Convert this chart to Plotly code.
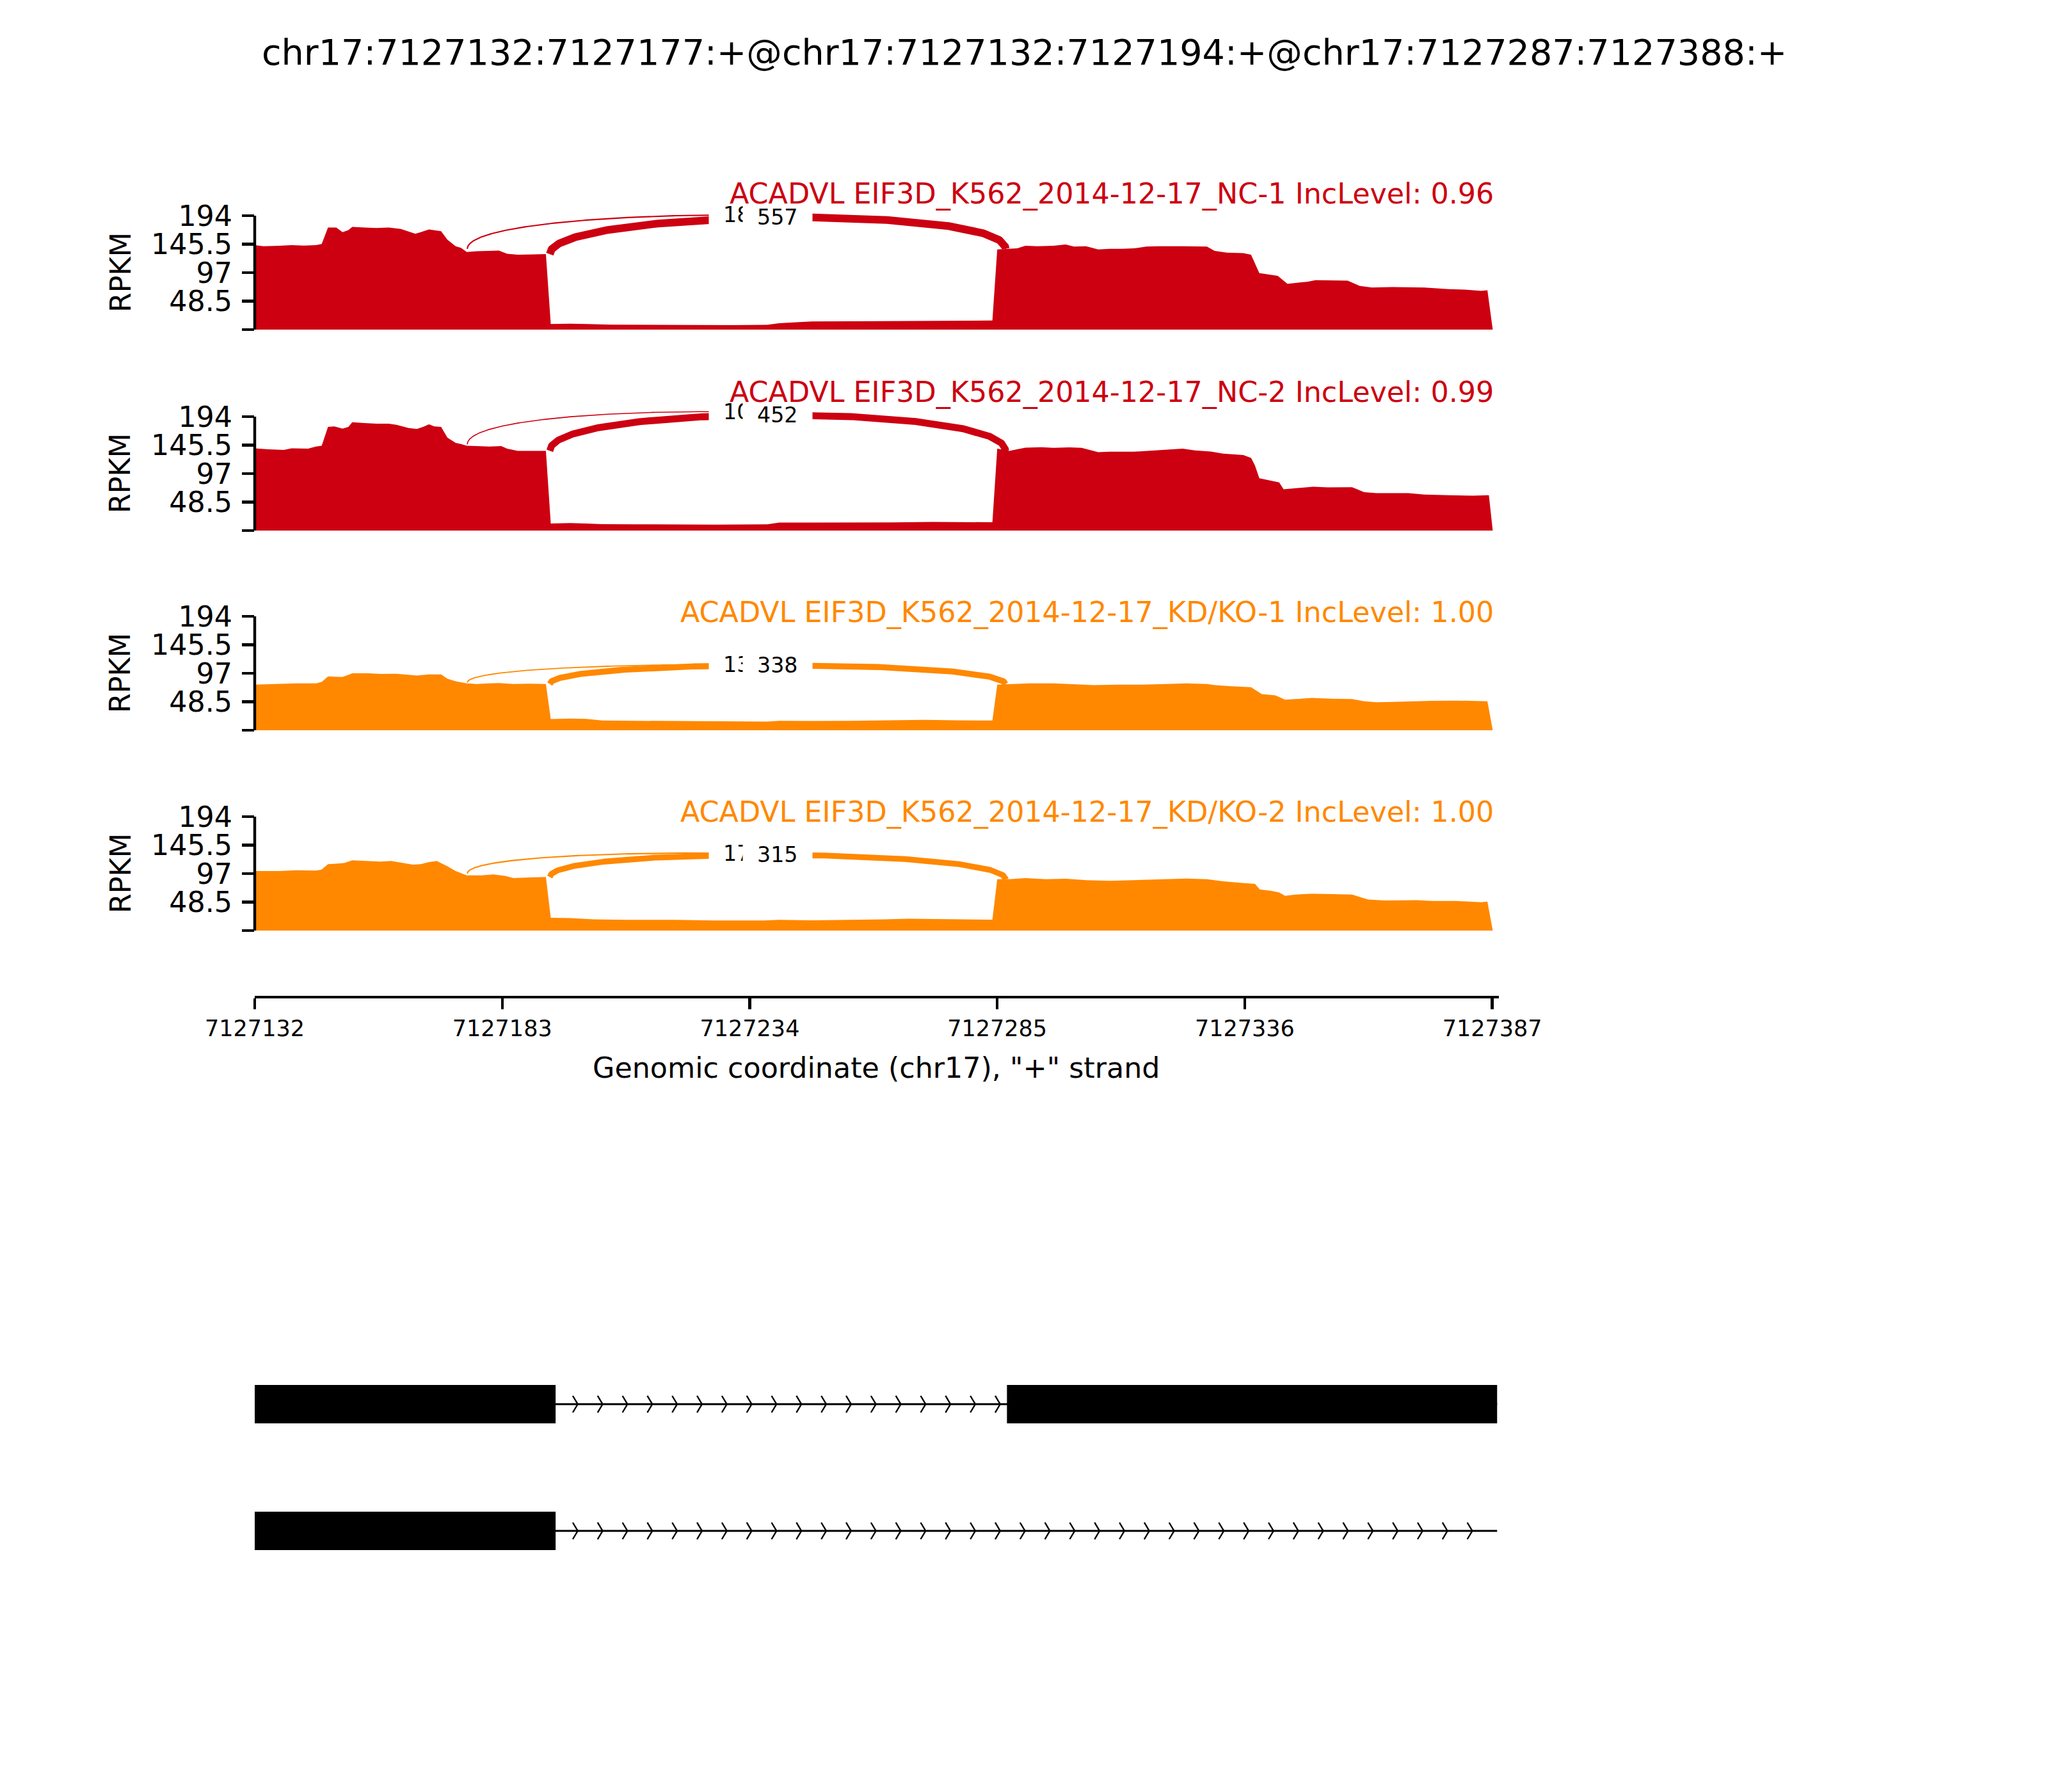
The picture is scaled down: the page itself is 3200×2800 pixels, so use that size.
import numpy as np
import plotly.graph_objects as go

# ======================= DATA =======================
TITLE = "chr17:7127132:7127177:+@chr17:7127132:7127194:+@chr17:7127287:7127388:+"
TX_START = 7127132
TX_END = 7127388
CHROM_LABEL = 'Genomic coordinate (chr17), "+" strand'

SAMPLE_LABELS = [
    "ACADVL EIF3D_K562_2014-12-17_NC-1",
    "ACADVL EIF3D_K562_2014-12-17_NC-2",
    "ACADVL EIF3D_K562_2014-12-17_KD/KO-1",
    "ACADVL EIF3D_K562_2014-12-17_KD/KO-2",
]
INC_LEVELS = [0.96, 0.99, 1.00, 1.00]

# coverage (RPKM): (offset from TX_START in bp, value)
COV_NC1 = [
    (0, 143.8), (1.8, 142.0), (5.1, 142.7), (7.6, 143.8), (10.1, 143.1), (12.6, 143.8), (13.8, 145.7),
    (15.1, 173.9), (16.8, 173.9), (18.1, 165.8), (19.3, 169.5), (20.1, 175.0), (22.6, 173.9), (25.1, 173.1),
    (27.6, 173.9), (30.1, 171.3), (31.7, 166.9), (33.1, 163.2), (34.2, 165.8), (35.9, 170.6), (38.4, 167.6),
    (39.7, 153.0), (41.4, 142.0), (42.5, 139.3), (43.7, 132.1), (45.8, 133.6), (48.3, 134.0), (50.3, 134.7),
    (52.0, 129.2), (54.2, 127.4), (57.5, 128.1), (60.0, 128.5), (61.0, 9.5), (65.0, 10.2), (68.3, 9.5),
    (73.3, 8.4), (81.6, 8.1), (89.9, 7.7), (98.2, 7.7), (105.6, 8.1), (108.1, 11.0), (112.3, 12.8),
    (114.8, 13.9), (123.1, 14.3), (131.4, 14.6), (139.7, 15.0), (148.0, 15.4), (152.0, 15.4), (153.0, 136.5),
    (155.5, 137.6), (157.1, 138.3), (158.8, 142.7), (161.3, 142.0), (164.6, 142.7), (167.1, 145.0),
    (168.8, 141.3), (171.3, 142.0), (173.8, 136.5), (176.2, 137.6), (178.7, 137.6), (181.2, 138.3),
    (183.7, 141.3), (186.2, 142.0), (191.2, 142.0), (196.2, 141.3), (197.8, 134.0), (200.3, 131.0),
    (203.7, 130.3), (205.3, 127.4), (206.1, 112.7), (207.0, 96.3), (208.6, 94.4), (210.8, 91.5),
    (212.8, 78.0), (215.3, 79.8), (216.9, 81.6), (218.6, 84.2), (221.9, 83.4), (225.2, 83.4), (227.7, 74.3),
    (230.2, 71.7), (234.4, 72.5), (237.7, 72.5), (241.0, 71.7), (246.0, 68.8), (249.3, 68.1), (252.7, 65.9),
    (254.0, 67.0), (255.1, 0.0),
]
COV_NC2 = [
    (0, 140.1), (2.7, 138.3), (6.0, 137.2), (7.6, 140.1), (11.0, 139.4), (12.6, 143.1), (13.8, 144.5),
    (15.1, 176.5), (16.4, 177.3), (18.1, 173.6), (19.3, 176.5), (20.1, 184.5), (22.6, 183.1), (25.1, 182.0),
    (27.6, 182.0), (29.2, 180.2), (31.7, 174.7), (33.4, 172.9), (34.7, 176.5), (35.9, 180.9), (37.0, 177.3),
    (38.4, 176.5), (39.7, 158.3), (41.4, 149.2), (42.5, 147.4), (43.7, 144.5), (45.8, 143.8), (48.3, 143.1),
    (50.8, 143.8), (52.0, 139.4), (54.2, 135.8), (56.6, 135.8), (60.0, 135.8), (61.0, 12.0), (65.0, 12.7),
    (68.3, 12.0), (71.6, 10.9), (78.2, 10.6), (86.5, 10.2), (94.9, 10.2), (105.6, 10.6), (108.1, 13.5),
    (114.8, 13.5), (123.1, 13.5), (131.4, 13.8), (139.7, 14.6), (148.0, 14.6), (152.0, 14.2), (153.0, 139.4),
    (155.5, 135.8), (157.1, 138.3), (158.8, 141.2), (162.1, 142.0), (164.6, 140.9), (167.9, 141.6),
    (170.4, 140.9), (173.8, 133.6), (176.2, 134.3), (181.2, 134.3), (184.6, 135.8), (187.9, 137.2),
    (191.2, 139.4), (193.7, 136.5), (197.0, 134.7), (199.5, 131.0), (203.7, 128.5), (205.3, 123.8),
    (206.1, 111.0), (207.0, 89.2), (209.5, 84.8), (211.1, 81.9), (212.0, 70.3), (215.3, 72.8), (218.1, 74.6),
    (221.1, 73.5), (226.1, 73.9), (228.6, 65.5), (231.1, 63.7), (237.7, 63.7), (241.0, 61.2), (246.0, 60.1),
    (251.0, 59.3), (254.3, 60.1), (255.1, 0.0),
]
COV_KD1 = [
    (0, 77.6), (5.1, 78.7), (8.5, 79.8), (12.6, 79.8), (13.8, 82.4), (15.1, 91.5), (16.8, 91.5), (18.1, 90.8),
    (19.3, 94.4), (20.1, 97.0), (23.4, 97.0), (25.9, 95.9), (29.2, 96.3), (31.7, 94.4), (33.4, 93.3),
    (35.9, 95.2), (38.4, 95.2), (39.7, 87.8), (41.4, 83.4), (43.7, 79.8), (45.8, 78.7), (48.3, 79.8),
    (50.3, 80.5), (53.3, 78.7), (56.6, 79.4), (60.0, 78.7), (61.0, 19.0), (65.0, 19.8), (68.3, 19.4),
    (71.6, 16.5), (78.2, 16.1), (86.5, 15.7), (98.2, 15.4), (105.6, 14.6), (108.1, 16.1), (114.8, 15.7),
    (123.1, 16.1), (131.4, 16.5), (138.0, 17.6), (144.7, 16.8), (152.0, 16.5), (153.0, 77.6), (156.3, 78.7),
    (159.6, 79.8), (164.6, 79.8), (167.9, 78.7), (172.9, 76.9), (177.9, 77.6), (182.9, 77.6), (187.9, 78.7),
    (192.0, 79.8), (196.2, 78.7), (197.8, 76.9), (201.2, 75.0), (205.3, 73.2), (206.1, 68.8), (207.5, 61.5),
    (210.3, 59.3), (212.3, 52.0), (214.5, 53.1), (217.8, 54.9), (221.9, 53.8), (226.1, 53.1), (228.6, 49.4),
    (231.1, 47.6), (234.4, 48.3), (238.5, 49.4), (242.7, 50.1), (247.7, 50.5), (254.0, 49.4), (255.1, 0.0),
]
COV_KD2 = [
    (0, 101.4), (5.1, 101.4), (8.5, 102.8), (12.6, 102.1), (13.8, 103.9), (15.1, 113.1), (16.8, 113.8),
    (18.4, 114.9), (20.1, 119.6), (23.4, 118.5), (25.9, 117.4), (28.1, 118.5), (30.1, 116.0), (32.6, 112.3),
    (34.2, 113.1), (35.9, 116.7), (37.5, 118.5), (38.4, 114.9), (39.7, 109.4), (41.4, 101.4), (43.7, 94.1),
    (46.7, 94.1), (49.2, 95.6), (51.7, 93.0), (53.3, 89.4), (56.6, 90.4), (60.0, 91.2), (61.0, 21.9),
    (65.0, 21.2), (69.9, 19.0), (76.6, 18.2), (86.5, 18.2), (94.9, 17.1), (104.8, 17.1), (108.1, 18.2),
    (114.8, 17.5), (123.1, 18.2), (129.7, 19.0), (134.7, 20.1), (144.7, 19.7), (152.0, 18.6), (153.0, 87.5),
    (155.5, 87.5), (158.8, 89.4), (163.0, 87.5), (167.1, 88.3), (171.3, 85.7), (176.2, 84.6), (181.2, 85.7),
    (186.2, 86.8), (192.0, 88.6), (196.2, 87.5), (199.5, 83.9), (203.7, 81.0), (206.1, 79.5), (207.1, 70.0),
    (209.5, 67.5), (211.1, 64.9), (212.3, 59.1), (214.5, 61.3), (217.8, 62.7), (221.9, 62.0), (226.1, 61.3),
    (229.4, 52.9), (232.8, 51.1), (239.4, 51.8), (242.7, 50.3), (247.7, 50.3), (252.7, 48.1), (254.0, 49.2),
    (255.1, 0.0),
]
COVERAGES = [COV_NC1, COV_NC2, COV_KD1, COV_KD2]

# junctions (intron start / end) and read counts per sample
JXN_STARTS = [7127177, 7127194]
JXN_ENDS = [7127287, 7127287]
JXN_COUNTS = [[18, 557], [10, 452], [13, 338], [17, 315]]

Y_TICK_VALS = [0, 48.5, 97, 145.5, 194]
Y_TICK_TEXT = ["", "48.5", "97", "145.5", "194"]
X_TICK_VALS = [7127132, 7127183, 7127234, 7127285, 7127336, 7127387]

ISOFORM_EXONS = [
    [[7127132, 7127177], [7127132, 7127194], [7127287, 7127388]],
    [[7127132, 7127177], [7127132, 7127194]],
]
N_ARROWS = 50

# ======================= STYLE / LAYOUT =======================
W, H = 3200, 2800
FONT = "DejaVu Sans"
COLORS = ["#CC0011", "#CC0011", "#FF8800", "#FF8800"]
PX_LEFT = 398
PX_PER_BP = 7.583
AXIS_SPAN_BP = 256.3
PX_RIGHT = PX_LEFT + AXIS_SPAN_BP * PX_PER_BP
X_RANGE = [TX_START, TX_START + AXIS_SPAN_BP]
PANEL_BOTTOM = [515, 829, 1141, 1454]
PX_PER_UNIT = 178 / 194.0
Y_TOP = 240
LABEL_Y = [303.4, 613, 957, 1269]
LABEL_RIGHT_PX = 2336
ARC_HEIGHT_FRAC = 0.44
ARC_W_PER_SQRT = 0.51
ARC_LEFT_SHIFT = -1.2
ARC_RIGHT_SHIFT = -0.3
TICK_LEN = 19
LW = 4.4
F_TITLE, F_MAIN, F_XTICK, F_JXN = 55.6, 44.4, 35, 33.3
XAXIS_PX = 1556
XTITLE_Y_PX = 1668
GENE_TOP_PX, GENE_BOT_PX = 2095, 2491
EXON_HALF = 0.1515
ARROW_HALF = 0.0657


def px_x(px):
    return px / W


def px_y(px):
    return 1 - px / H


def ax_names(n):
    s = "" if n == 1 else str(n)
    return "x" + s, "y" + s, "xaxis" + s, "yaxis" + s


fig = go.Figure()
annotations = []
shapes = []
layout = {}

for i in range(4):
    n = i + 1
    xa, ya, xkey, ykey = ax_names(n)
    color = COLORS[i]
    pos = np.array([p for p, _ in COVERAGES[i]]) + TX_START
    val = np.array([v for _, v in COVERAGES[i]])
    fig.add_trace(go.Scatter(x=pos, y=val, mode="lines", fill="tozeroy",
                             line=dict(width=0, color=color), fillcolor=color,
                             xaxis=xa, yaxis=ya, hoverinfo="skip", showlegend=False))
    h = ARC_HEIGHT_FRAC * val.max()
    t = np.linspace(0, 1, 300)
    for j in range(len(JXN_STARTS)):
        x1 = JXN_STARTS[j] + ARC_LEFT_SHIFT
        x2 = JXN_ENDS[j] + ARC_RIGHT_SHIFT
        ld = np.interp(x1 - 1, pos, val)
        rd = np.interp(x2 + 1, pos, val)
        P = np.array([[x1, ld], [x1, ld + h], [x2, rd + h], [x2, rd]])
        B = ((1 - t) ** 3)[:, None] * P[0] + (3 * (1 - t) ** 2 * t)[:, None] * P[1] \
            + (3 * (1 - t) * t ** 2)[:, None] * P[2] + (t ** 3)[:, None] * P[3]
        cnt = JXN_COUNTS[i][j]
        fig.add_trace(go.Scatter(x=B[:, 0], y=B[:, 1], mode="lines",
                                 line=dict(color=color, width=ARC_W_PER_SQRT * np.sqrt(cnt)),
                                 xaxis=xa, yaxis=ya, hoverinfo="skip", showlegend=False))
        mid = 0.125 * P[0] + 0.375 * P[1] + 0.375 * P[2] + 0.125 * P[3]
        annotations.append(dict(x=mid[0], y=mid[1], xref=xa, yref=ya, text=str(cnt),
                                showarrow=False, bgcolor="white", borderpad=22,
                                font=dict(family=FONT, size=F_JXN, color="black"),
                                xanchor="center", yanchor="middle"))
    bottom = PANEL_BOTTOM[i]
    top = bottom - Y_TOP * PX_PER_UNIT
    layout[xkey] = dict(domain=[px_x(PX_LEFT), px_x(PX_RIGHT)], range=X_RANGE,
                        visible=False, anchor=ya, automargin=False)
    layout[ykey] = dict(domain=[px_y(bottom), px_y(top)], range=[0, Y_TOP], anchor=xa,
                        tickvals=Y_TICK_VALS, ticktext=Y_TICK_TEXT, ticks="outside",
                        ticklen=TICK_LEN, tickwidth=LW, tickcolor="black",
                        showline=False, showgrid=False, zeroline=False, automargin=False,
                        ticklabelstandoff=6,
                        tickfont=dict(family=FONT, size=F_MAIN, color="black"))
    shapes.append(dict(type="line", xref=xa + " domain", yref=ya, x0=0, x1=0, y0=0, y1=194,
                       line=dict(color="black", width=LW)))
    annotations.append(dict(x=px_x(LABEL_RIGHT_PX), y=px_y(LABEL_Y[i]), xref="paper", yref="paper",
                            text=f"{SAMPLE_LABELS[i]} IncLevel: {INC_LEVELS[i]:.2f}",
                            showarrow=False, xanchor="right", yanchor="middle",
                            font=dict(family=FONT, size=F_MAIN, color=color)))
    annotations.append(dict(x=px_x(188), y=px_y(bottom - 89), xref="paper", yref="paper",
                            text="RPKM", textangle=-90, showarrow=False,
                            xanchor="center", yanchor="middle",
                            font=dict(family=FONT, size=F_MAIN, color="black")))

# bottom genomic axis
fig.add_trace(go.Scatter(x=[X_RANGE[0]], y=[0], mode="markers", marker=dict(opacity=0),
                         xaxis="x5", yaxis="y5", hoverinfo="skip", showlegend=False))
layout["xaxis5"] = dict(domain=[px_x(PX_LEFT), px_x(PX_RIGHT)], range=X_RANGE, anchor="y5",
                        showline=True, linewidth=LW, linecolor="black", ticks="outside",
                        ticklen=17, tickwidth=LW, tickcolor="black",
                        tickvals=X_TICK_VALS, ticktext=[str(v) for v in X_TICK_VALS],
                        showgrid=False, zeroline=False, automargin=False,
                        tickfont=dict(family=FONT, size=F_XTICK, color="black"))
layout["yaxis5"] = dict(domain=[px_y(XAXIS_PX), px_y(XAXIS_PX - 20)], range=[0, 1],
                        visible=False, anchor="x5", automargin=False)
annotations.append(dict(x=px_x((PX_LEFT + PX_RIGHT) / 2), y=px_y(XTITLE_Y_PX),
                        xref="paper", yref="paper",
                        text=CHROM_LABEL, showarrow=False, xanchor="center", yanchor="middle",
                        font=dict(family=FONT, size=F_MAIN, color="black")))

# gene structure
span = TX_END - TX_START
spread = 0.2 * span / N_ARROWS
for r, exons in enumerate(ISOFORM_EXONS):
    fig.add_trace(go.Scatter(x=[TX_START, TX_END], y=[r, r], mode="lines",
                             line=dict(color="black", width=2.8),
                             xaxis="x6", yaxis="y6", hoverinfo="skip", showlegend=False))
    ax, ay = [], []
    for k in range(N_ARROWS):
        loc = TX_START + k * span / N_ARROWS
        ax += [loc - spread, loc, loc - spread, None]
        ay += [r - ARROW_HALF, r, r + ARROW_HALF, None]
    fig.add_trace(go.Scatter(x=ax, y=ay, mode="lines", line=dict(color="black", width=2.4),
                             xaxis="x6", yaxis="y6", hoverinfo="skip", showlegend=False))
    for e0, e1 in exons:
        shapes.append(dict(type="rect", xref="x6", yref="y6", x0=e0, x1=e1,
                           y0=r - EXON_HALF, y1=r + EXON_HALF, fillcolor="black",
                           line=dict(width=0)))
layout["xaxis6"] = dict(domain=[px_x(PX_LEFT), px_x(PX_RIGHT)], range=X_RANGE, visible=False,
                        anchor="y6", automargin=False)
layout["yaxis6"] = dict(domain=[px_y(GENE_BOT_PX), px_y(GENE_TOP_PX)], range=[1.5, -0.5],
                        visible=False, anchor="x6", automargin=False)

annotations.append(dict(x=0.5, y=px_y(82), xref="paper", yref="paper", text=TITLE,
                        showarrow=False, xanchor="center", yanchor="middle",
                        font=dict(family=FONT, size=F_TITLE, color="black")))

fig.update_layout(width=W, height=H,
                  margin=dict(l=0, r=0, t=0, b=0, pad=0, autoexpand=False),
                  paper_bgcolor="white", plot_bgcolor="rgba(0,0,0,0)",
                  annotations=annotations, shapes=shapes, showlegend=False,
                  font=dict(family=FONT), **layout)
fig.write_html("out.html", config={"displayModeBar": False, "staticPlot": True},
               post_script="document.body.style.margin='0px';")
